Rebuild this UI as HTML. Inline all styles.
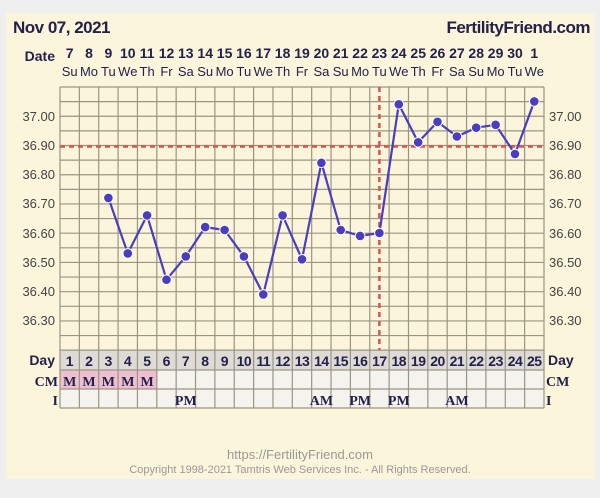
<!DOCTYPE html>
<html><head><meta charset="utf-8"><style>
html,body{margin:0;padding:0;background:#efefef;}
body{width:600px;height:493px;overflow:hidden;font-family:"Liberation Sans",sans-serif;}
svg text{font-family:"Liberation Sans",sans-serif;}
.t{font-family:"Liberation Serif",serif;font-weight:bold;fill:#23204a;font-size:14px;}
</style></head><body>
<svg width="600" height="493" viewBox="0 0 600 493" xmlns="http://www.w3.org/2000/svg">
<rect x="6" y="13" width="589" height="466" fill="#fbf5dc"/>
<text x="13" y="33" font-size="17" font-weight="bold" fill="#23204a" letter-spacing="-0.5">Nov 07, 2021</text>
<text x="590" y="33" font-size="17" font-weight="bold" fill="#23204a" text-anchor="end" letter-spacing="-0.5">FertilityFriend.com</text>
<text x="55" y="61" font-size="14" font-weight="bold" fill="#23204a" text-anchor="end">Date</text>
<g font-size="14" font-weight="bold" fill="#23204a" text-anchor="middle">
<text x="69.7" y="58">7</text><text x="89" y="58">8</text><text x="108.4" y="58">9</text><text x="127.8" y="58">10</text><text x="147.1" y="58">11</text><text x="166.5" y="58">12</text><text x="185.8" y="58">13</text><text x="205.2" y="58">14</text><text x="224.6" y="58">15</text><text x="243.9" y="58">16</text><text x="263.3" y="58">17</text><text x="282.6" y="58">18</text><text x="302" y="58">19</text><text x="321.4" y="58">20</text><text x="340.7" y="58">21</text><text x="360.1" y="58">22</text><text x="379.4" y="58">23</text><text x="398.8" y="58">24</text><text x="418.2" y="58">25</text><text x="437.5" y="58">26</text><text x="456.9" y="58">27</text><text x="476.2" y="58">28</text><text x="495.6" y="58">29</text><text x="515" y="58">30</text><text x="534.3" y="58">1</text>
</g>
<g font-size="13" fill="#23204a" text-anchor="middle">
<text x="69.7" y="76">Su</text><text x="89" y="76">Mo</text><text x="108.4" y="76">Tu</text><text x="127.8" y="76">We</text><text x="147.1" y="76">Th</text><text x="166.5" y="76">Fr</text><text x="185.8" y="76">Sa</text><text x="205.2" y="76">Su</text><text x="224.6" y="76">Mo</text><text x="243.9" y="76">Tu</text><text x="263.3" y="76">We</text><text x="282.6" y="76">Th</text><text x="302" y="76">Fr</text><text x="321.4" y="76">Sa</text><text x="340.7" y="76">Su</text><text x="360.1" y="76">Mo</text><text x="379.4" y="76">Tu</text><text x="398.8" y="76">We</text><text x="418.2" y="76">Th</text><text x="437.5" y="76">Fr</text><text x="456.9" y="76">Sa</text><text x="476.2" y="76">Su</text><text x="495.6" y="76">Mo</text><text x="515" y="76">Tu</text><text x="534.3" y="76">We</text>
</g>
<rect x="60" y="350" width="484" height="20" fill="#dedbd6"/>
<rect x="60" y="370" width="484" height="38" fill="#f5f3ee"/>
<rect x="60" y="370" width="96.8" height="19" fill="#efbfd0"/>
<g id="grid" stroke="#9a9582" stroke-width="1.2"></g>
<g font-size="13" fill="#444" text-anchor="end">
<text x="55" y="121">37.00</text><text x="55" y="150">36.90</text><text x="55" y="179">36.80</text><text x="55" y="208">36.70</text><text x="55" y="238">36.60</text><text x="55" y="267">36.50</text><text x="55" y="296">36.40</text><text x="55" y="325">36.30</text>
</g>
<g font-size="13" fill="#444">
<text x="549" y="121">37.00</text><text x="549" y="150">36.90</text><text x="549" y="179">36.80</text><text x="549" y="208">36.70</text><text x="549" y="238">36.60</text><text x="549" y="267">36.50</text><text x="549" y="296">36.40</text><text x="549" y="325">36.30</text>
</g>
<line x1="60" y1="146.5" x2="544" y2="146.5" stroke="#d9534f" stroke-width="2.5" stroke-dasharray="5,4"/>
<line x1="379.4" y1="87" x2="379.4" y2="350" stroke="#d9534f" stroke-width="2.5" stroke-dasharray="5,4"/>
<polyline fill="none" stroke="#4a3dbf" stroke-width="2.2" stroke-linejoin="round" points="108.4,197.9 127.8,253.4 147.1,215.4 166.5,279.7 185.8,256.4 205.2,227.1 224.6,230 243.9,256.4 263.3,294.4 282.6,215.4 302,259.3 321.4,162.8 340.7,230 360.1,235.9 379.4,233 398.8,104.3 418.2,142.3 437.5,121.8 456.9,136.5 476.2,127.7 495.6,124.8 515,154 534.3,101.4"/>
<g id="pts" fill="#4a3dbf"></g>
<text x="55" y="365" font-size="14" font-weight="bold" fill="#23204a" text-anchor="end">Day</text>
<text x="548" y="365" font-size="14" font-weight="bold" fill="#23204a">Day</text>
<text x="58" y="386" class="t" text-anchor="end">CM</text>
<text x="546" y="386" class="t">CM</text>
<text x="58" y="405" class="t" text-anchor="end">I</text>
<text x="546" y="405" class="t">I</text>
<g font-size="14" font-weight="bold" fill="#23204a" text-anchor="middle">
<text x="69.7" y="366">1</text><text x="89" y="366">2</text><text x="108.4" y="366">3</text><text x="127.8" y="366">4</text><text x="147.1" y="366">5</text><text x="166.5" y="366">6</text><text x="185.8" y="366">7</text><text x="205.2" y="366">8</text><text x="224.6" y="366">9</text><text x="243.9" y="366" letter-spacing="-0.5">10</text><text x="263.3" y="366" letter-spacing="-0.5">11</text><text x="282.6" y="366" letter-spacing="-0.5">12</text><text x="302" y="366" letter-spacing="-0.5">13</text><text x="321.4" y="366" letter-spacing="-0.5">14</text><text x="340.7" y="366" letter-spacing="-0.5">15</text><text x="360.1" y="366" letter-spacing="-0.5">16</text><text x="379.4" y="366" letter-spacing="-0.5">17</text><text x="398.8" y="366" letter-spacing="-0.5">18</text><text x="418.2" y="366" letter-spacing="-0.5">19</text><text x="437.5" y="366" letter-spacing="-0.5">20</text><text x="456.9" y="366" letter-spacing="-0.5">21</text><text x="476.2" y="366" letter-spacing="-0.5">22</text><text x="495.6" y="366" letter-spacing="-0.5">23</text><text x="515" y="366" letter-spacing="-0.5">24</text><text x="534.3" y="366" letter-spacing="-0.5">25</text>
</g>
<g class="t" text-anchor="middle">
<text x="69.7" y="386" class="t">M</text><text x="89" y="386" class="t">M</text><text x="108.4" y="386" class="t">M</text><text x="127.8" y="386" class="t">M</text><text x="147.1" y="386" class="t">M</text>
<text x="185.8" y="405" class="t">PM</text><text x="321.4" y="405" class="t">AM</text><text x="360.1" y="405" class="t">PM</text><text x="398.8" y="405" class="t">PM</text><text x="456.9" y="405" class="t">AM</text>
</g>
<text x="300" y="459" font-size="13" fill="#999" text-anchor="middle">https://FertilityFriend.com</text>
<text x="300" y="473" font-size="11" fill="#999" text-anchor="middle">Copyright 1998-2021 Tamtris Web Services Inc. - All Rights Reserved.</text>
</svg>
<script>
var ns="http://www.w3.org/2000/svg",g=document.getElementById("grid");
function L(a,b,c,d){var l=document.createElementNS(ns,"line");l.setAttribute("x1",a);l.setAttribute("y1",b);l.setAttribute("x2",c);l.setAttribute("y2",d);g.appendChild(l);}
for(var k=0;k<=25;k++){var x=60+19.36*k;L(x,87,x,408);}
for(var j=0;j<=18;j++){var y=87+14.62*j;L(60,y,544,y);}
L(60,370,544,370);L(60,389,544,389);L(60,408,544,408);
var p=[[108.4,197.9],[127.8,253.4],[147.1,215.4],[166.5,279.7],[185.8,256.4],[205.2,227.1],[224.6,230],[243.9,256.4],[263.3,294.4],[282.6,215.4],[302,259.3],[321.4,162.8],[340.7,230],[360.1,235.9],[379.4,233],[398.8,104.3],[418.2,142.3],[437.5,121.8],[456.9,136.5],[476.2,127.7],[495.6,124.8],[515,154],[534.3,101.4]];
var P=document.getElementById("pts");
p.forEach(function(q){var c=document.createElementNS(ns,"circle");c.setAttribute("cx",q[0]);c.setAttribute("cy",q[1]);c.setAttribute("r",4.8);c.setAttribute("stroke","#fff");c.setAttribute("stroke-width","1");P.appendChild(c);});
</script>
</body></html>
